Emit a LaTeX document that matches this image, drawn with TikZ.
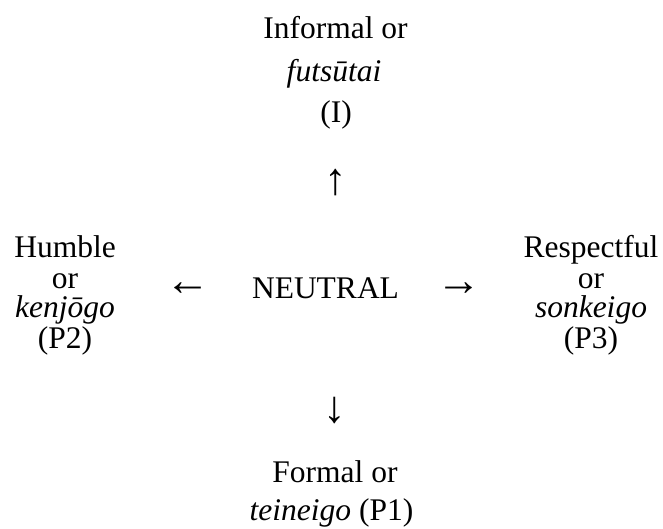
\documentclass[tikz,border=0pt]{standalone}
\usepackage{fontspec}
\setmainfont{Liberation Serif}
\begin{document}
\begin{tikzpicture}[x=1pt,y=-1pt,
  lbl/.style={anchor=base,inner sep=0pt,font=\fontsize{31.5}{36}\selectfont},
  arr/.style={anchor=center,inner sep=0pt,font=\fontsize{45}{50}\selectfont}]
\useasboundingbox[fill=white] (0,0) rectangle (663,529);
% top
\node[lbl] (i1) at (335.5,39) {Informal or};
\node[lbl] (i2) at (334,82) {\itshape futsūtai};
\node[lbl] (i3) at (336,123) {(I)};
% left
\node[lbl] (h1) at (65,257) {Humble};
\node[lbl] (h2) at (65,288) {or};
\node[lbl] (h3) at (65,317) {\itshape kenjōgo};
\node[lbl] (h4) at (65,348) {(P2)};
% right
\node[lbl] (r1) at (591,257) {Respectful};
\node[lbl] (r2) at (591,288) {or};
\node[lbl] (r3) at (591,317) {\itshape sonkeigo};
\node[lbl] (r4) at (591,348) {(P3)};
% centre
\node[lbl] (n) at (325.5,298) {NEUTRAL};
% bottom
\node[lbl] (f1) at (335,482) {Formal or};
\node[lbl] (f2) at (331.5,520) {\itshape teineigo\/\upshape\ (P1)};
% arrows
\node[arr] (au) at (336,182.5) {↑};
\node[arr] (ad) at (335,411) {↓};
\node[arr] (al) at (187.5,289) {←};
\node[arr] (ar) at (459,289) {→};
\end{tikzpicture}
\end{document}
